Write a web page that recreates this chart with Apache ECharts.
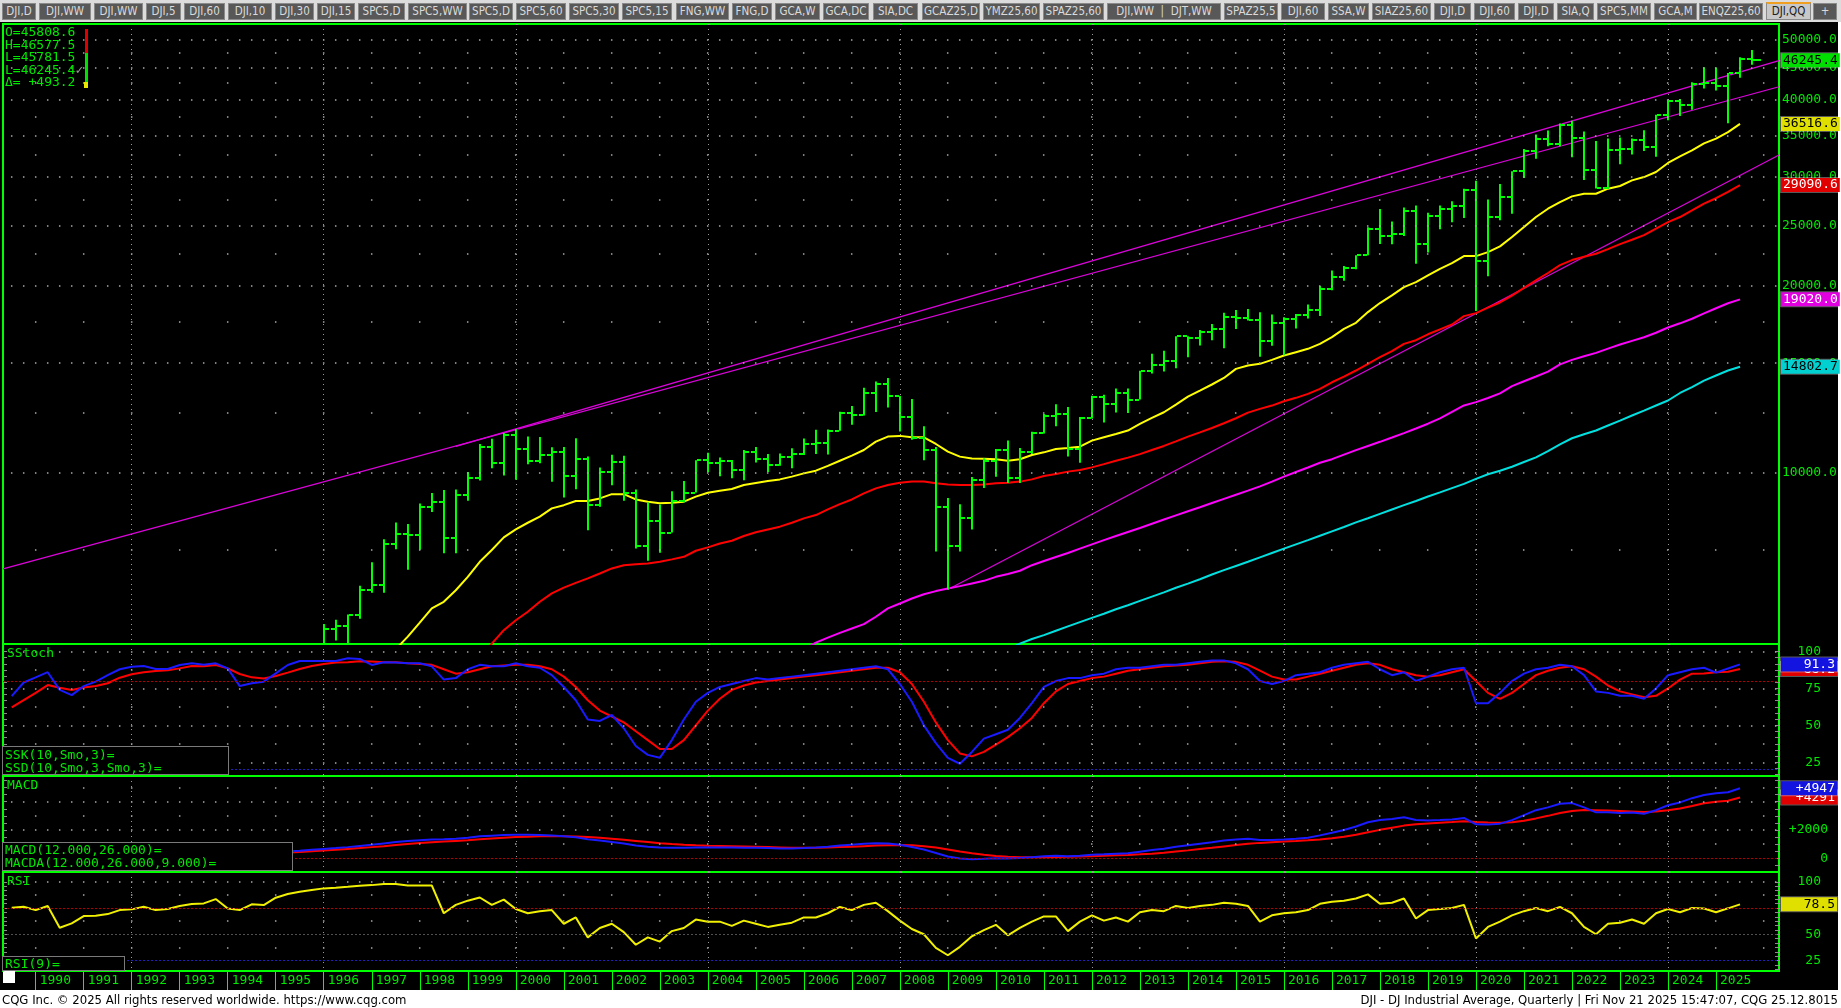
<!DOCTYPE html>
<html><head><meta charset="utf-8">
<script src="https://cdn.jsdelivr.net/npm/echarts@6/dist/echarts.min.js"></script>
<style>
html,body{margin:0;padding:0;width:1841px;height:1008px;overflow:hidden;background:#fff;}
#tabs{position:absolute;left:0;top:0;width:1841px;height:22px;background:#dcdcdc;}
.tab{position:absolute;top:3px;height:17px;background:#585858;border:1px solid #8a8a8a;box-sizing:border-box;color:#dadada;font-family:'Liberation Sans Narrow','DejaVu Sans Condensed','Liberation Sans',sans-serif;font-size:11.5px;line-height:15px;text-align:center;overflow:hidden;white-space:pre;}
.tab.active{background:#c8c8c8;color:#202020;border-top:2px solid #f0a020;top:2px;height:18px;}
#black{position:absolute;left:0;top:22px;width:1838px;height:968px;background:#000;}
#chart{position:absolute;left:0;top:0;width:1841px;height:1008px;}
.ov{position:absolute;color:#00e800;font-family:'DejaVu Sans Mono',monospace;font-size:13px;white-space:pre;}
.lbox{position:absolute;background:#000;border:1px solid #7a7a7a;box-sizing:border-box;padding-left:2px;}
.foot{position:absolute;top:992px;font-family:'Liberation Sans Narrow','DejaVu Sans Condensed','Liberation Sans',sans-serif;font-size:13px;color:#000;white-space:pre;line-height:16px;}
</style></head>
<body>
<div id="tabs"></div>
<div id="black"></div>
<div id="chart"></div>
<script>
// ---------------- DATA ----------------
const tabNames = ['DJI,D','DJI,WW','DJI,WW','DJI,5','DJI,60','DJI,10','DJI,30','DJI,15','SPC5,D','SPC5,WW','SPC5,D','SPC5,60','SPC5,30','SPC5,15','FNG,WW','FNG,D','GCA,W','GCA,DC','SIA,DC','GCAZ25,D','YMZ25,60','SPAZ25,60','DJI,WW  |  DJT,WW','SPAZ25,5','DJI,60','SSA,W','SIAZ25,60','DJI,D','DJI,60','DJI,D','SIA,Q','SPC5,MM','GCA,M','ENQZ25,60','DJI,QQ','+'];

const yearTicks = [1990,1991,1992,1993,1994,1995,1996,1997,1998,1999,2000,2001,2002,2003,2004,2005,2006,2007,2008,2009,2010,2011,2012,2013,2014,2015,2016,2017,2018,2019,2020,2021,2022,2023,2024,2025];
const gridYears = [1992,1996,2000,2004,2008,2012,2016,2020,2024];

// main price axis: labelled levels (dense dotted) and half levels (sparse dotted)
const mainLabelValues = [10000,15000,20000,25000,30000,35000,40000,45000,50000];
const mainHalfValues = [7500,12500,17500,22500,27500,32500,37500,42500,47500];
const stochLabels = [25,50,75,100];
const stochHalf = [37.5,62.5,87.5];
const macdLabels = [0,2000];
const macdDense = [2000,4000];
const macdHalf = [1000,3000,5000];
const rsiLabels = [25,50,75,100];
const rsiHalf = [37.5,62.5,87.5];

// Quarterly OHLC, 1996Q1 .. 2025Q4
const barStart = '1996Q1';
const barOpen = [5117,5587,5654,5882, 6448,6583,7672,7945, 7908,8800,8952,7843, 9181,9786,10970,10337,
 11497,10922,10448,10651, 10787,9879,10502,8848, 10021,10404,9243,7592, 8342,7992,8985,9275,
 10454,10358,10435,10080, 10783,10504,10275,10569, 10718,11109,11150,11679, 12463,12354,13409,13896,
 13265,12263,11350,10851, 8776,7609,8447,9712, 10428,10857,9774,10788, 11578,12320,12414,10913,
 12218,13212,12880,13437, 13104,14579,14910,15130, 16577,16458,16827,17043, 17823,17776,17620,16285,
 17425,17685,17930,18308, 19763,20663,21350,22405, 24719,24103,24271,26458, 23327,25929,26600,26917,
 28538,21917,25813,27782, 30606,32982,34503,33844, 36338,34678,30775,28726, 33147,33274,34408,33508,
 37690,39807,39119,42330, 42544,42002,44095,46398];
const barHigh = [5690,5778,5894,6561, 7158,7797,8299,8250, 8906,9260,9367,9380, 10007,11107,11326,11568,
 11750,11425,11400,10977, 10983,11350,10610,10184, 10673,10635,9379,8950, 8869,9320,9686,10462,
 10753,10570,10470,10868, 10984,10700,10720,10940, 11335,11709,11727,12529, 12796,13692,14021,14198,
 13279,13136,11867,10983, 9088,8878,9829,10540, 10908,11258,10948,11625, 12419,12876,12753,12284,
 13290,13338,13653,13661, 14585,15542,15709,16588, 16588,16978,17350,18103, 18289,18351,18137,17977,
 17790,18016,18668,19988, 21169,21535,22419,24876, 26617,25400,26769,26952, 26241,26952,27399,28702,
 29569,27580,29199,30637, 33259,35091,35631,36566, 36953,35492,34281,34596, 34712,34588,35679,37778,
 39889,40077,42628,45074, 45054,44118,46774,48041];
const barLow = [5000,5350,5300,5800, 6392,6391,7512,6960, 7500,8627,7400,7400, 9000,9700,10150,9884,
 9731,10300,10340,9654, 9106,9389,8062,8800, 9529,9000,7532,7197, 7416,7992,8936,9275,
 10000,9852,9780,9708, 10368,10012,10250,10156, 10661,10700,10683,11670, 11939,12354,12518,12725,
 11634,11287,10460,7450, 6470,7450,8087,9430, 9835,9614,9614,10700, 11555,11862,10605,10362,
 12218,12035,12492,12471, 13104,14434,14552,14719, 15341,16015,16334,15855, 17037,17576,15370,16013,
 15451,17063,17713,17884, 19677,20379,21279,22405, 23360,23344,24077,21713, 22639,24680,25339,25743,
 18214,20735,25523,26143, 29857,32072,33613,33613, 32273,29653,28715,28661, 31429,32580,33025,32327,
 37012,37611,38499,41659, 41345,36612,43340,45500];
const barClose = [5587,5654,5882,6448, 6583,7672,7945,7908, 8800,8952,7843,9181, 9786,10970,10337,11497,
 10922,10448,10651,10787, 9879,10502,8848,10021, 10404,9243,7592,8342, 7992,8985,9275,10454,
 10358,10435,10080,10783, 10504,10275,10569,10718, 11109,11150,11679,12463, 12354,13409,13896,13265,
 12263,11350,10851,8776, 7609,8447,9712,10428, 10857,9774,10788,11578, 12320,12414,10913,12218,
 13212,12880,13437,13104, 14579,14910,15130,16577, 16458,16827,17043,17823, 17776,17620,16285,17425,
 17685,17930,18308,19763, 20663,21350,22405,24719, 24103,24271,26458,23327, 25929,26600,26917,28538,
 21917,25813,27782,30606, 32982,34503,33844,36338, 34678,30775,28726,33147, 33274,34408,33508,37690,
 39807,39119,42330,42544, 42002,44095,46398,46245.4];

// Moving averages
const maYellowStart = '1997Q3';
const maYellow = [5180,5430,5720,6030,6180,6450,6780,7170,7490,7850,8090,8290,8480,8745,8850,8990,8990,9075,9220,9220,
 9040,8965,8910,8930,8965,9135,9270,9340,9400,9540,9610,9680,9740,9840,9960,10060,10240,10440,10640,10865,
 11210,11420,11450,11390,11390,11110,10800,10600,10530,10520,10495,10440,10495,10665,
 10770,10905,10945,11000,11250,11390,11530,11680,11970,12240,12500,12860,13250,13550,13860,14200,14690,14870,14965,15190,
 15435,15630,15825,16120,16525,17045,17430,18140,18760,19300,19905,20280,20790,21310,21765,22340,22340,22670,23160,23980,
 24890,25830,26640,27310,27890,28170,28170,28700,28990,29600,29970,30540,31580,32370,33100,33970,34570,35410,36516.6];
const maRedStart = '1999Q2';
const maRed = [5000,5290,5560,5770,5955,6180,6375,6515,6630,6740,6865,6995,7080,7105,7125,7170,7235,7305,7470,7565,
 7675,7755,7890,8000,8085,8170,8290,8425,8530,8715,8885,9040,9245,9420,9540,9620,9660,9660,9600,9560,
 9540,9540,9560,9600,9620,9660,9740,
 9865,9935,10025,10085,10185,10310,10440,10560,10700,10865,11030,11220,11420,11600,11790,12000,12225,12485,12660,12815,
 13025,13190,13385,13635,13975,14275,14600,14965,15340,15685,16120,16340,16705,17015,17325,17870,18070,18450,18800,19280,
 19850,20410,20980,21600,22010,22280,22535,22925,23360,23735,24150,24740,25350,25830,26480,27150,27700,28360,29090.6];
const maMagentaStart = '2006Q1';
const maMagenta = [5180,5310,5410,5505,5595,5687,5845,6030,6140,6255,6355,6430,6490,6550,6615,6680,6780,6850,6935,7080,
 7190,7300,7410,7530,7650,7770,7890,8010,8130,8260,8390,8520,8650,8780,8920,9060,9200,9340,9490,9660,
 9840,10010,10180,10360,10500,10680,10860,11030,11200,11380,11570,11770,11980,12220,12520,12820,12980,13180,13410,13780,
 14030,14280,14540,14940,15190,15390,15590,15840,16080,16300,16520,16800,17130,17400,17700,18050,18400,18750,19020.0];
const maCyanStart = '2010Q2';
const maCyan = [5180,5290,5380,5460,5550,5640,5730,5820,5910,6010,6100,6200,6300,6400,6510,6610,6720,6840,6950,7060,
 7170,7290,7410,7530,7650,7770,7900,8030,8160,8300,8430,8570,8710,8850,8990,9140,9280,9430,9580,9760,
 9930,10060,10210,10390,10570,10820,11090,11350,11520,11680,11900,12120,12350,12580,12820,13060,13430,13730,14060,14330,
 14600,14802.7];

// Trend lines [time, price]
const trendUpperA = [[1998.75, 11010], [2026.312, 46190]];
const trendUpperB = [[1989.319, 6983], [2026.312, 41930]];
const trendLowerC = [[2009.0, 6470], [2026.312, 32530]];

// Indicators, starting 1989Q3
const indStart = '1989Q3';
const stochK = [69.8,79,82.5,86,74,70.5,76.6,79.6,84,88, 89.7,90.2,88.2,88.2,90.9,92,91,92,88.6,76.6,
 78.5,79.6,85.2,90.9,93.6,93.6,93.6,93.6,95.4,95, 90.9,92.7,92.5,92,92,90,81,82,88,91,
 90,90,92,90,89,84,76,67,54,53, 57,48,36,30,28,40,54,66,72,76,
 78,80,82,81,82,83,84,85,86,87, 88,89,90,88,78,66,50,38,28,24,
 32,41,44,47,55,65,76,80,82,82, 84,85,88,89,89,90,91,91,92,93,
 94,94,92,88,80,78,80,84,85,86, 89,91,92,93,88,84,86,80,83,86,
 88,89,65,65,72,80,85,88,89,91, 90,84,73,72,70,70,68,75,84,86,
 88,89,85.7,88.5,91.3];
const stochD = [62.2,67.1,72,77.3,75.5,73.9,75.7,76.6,78.5,82.3, 84.6,85.9,86.8,87.3,88.6,90.2,90,90.9,88.6,84.8,
 82.5,81.8,83.4,85.7,88.2,90.2,91.6,92.5,92.7,93.4, 93.2,92.7,92.7,92,91.5,91,88,85,86,88,
 90,90.5,91,91,90,88,83,76,67,60, 56,52,46,40,34,34,40,50,60,68,
 74,77,79,80,81,82,83,84,85,86, 87,88,89,89,86,78,66,52,40,31,
 29,32,37,42,48,55,65,73,78,80, 82,83,85,87,88,89,90,90.5,91,92,
 93,93.5,93,91,87,83,81,81,83,85, 87,89,91,92,91,88,86,84,83,84,
 86,88,80,72,68,72,78,84,87,89, 90,88,83,77,73,71,69,70,75,81,
 85,85.2,86,86.3,88.2];
const macdStart = '1994Q3';
const macdLine = [380,420,460,500,540,600,660,720,790,870, 950,1050,1150,1230,1280,1330,1350,1380,1450,1550,
 1600,1650,1670,1660,1650,1620,1550,1480,1350,1250, 1150,1050,900,820,760,740,740,760,770,770,
 760,750,740,720,700,700,720,760,820,900, 960,1020,1060,1040,950,800,620,380,130,-20,
 -60,-40,0,-10,20,80,140,180,150,180, 250,280,330,360,470,580,680,820,920,1030,
 1130,1250,1330,1380,1300,1300,1330,1380,1450,1620, 1800,2000,2250,2550,2700,2780,2900,2700,2680,2700,
 2750,2850,2400,2380,2450,2700,3050,3400,3600,3850, 3900,3600,3250,3250,3200,3230,3150,3400,3750,3950,
 4250,4473,4594,4664,4947];
const macdSignal = [300,330,370,410,450,500,550,600,660,720, 790,860,940,1010,1080,1130,1180,1230,1280,1340,
 1400,1450,1500,1530,1560,1570,1560,1540,1500,1450, 1380,1310,1230,1150,1070,1010,960,920,890,870,
 850,830,810,790,770,750,740,740,760,790, 820,860,900,930,940,920,860,760,620,480,
 350,250,170,110,80,70,80,100,110,130, 150,180,210,240,280,330,400,480,560,650,
 740,840,940,1030,1090,1140,1180,1220,1270,1330, 1420,1530,1670,1840,2010,2160,2310,2400,2460,2510,
 2560,2620,2570,2530,2510,2550,2660,2820,3000,3200, 3350,3420,3400,3370,3340,3310,3280,3300,3400,3520,
 3700,3887,4000,4071,4291];
const rsi = [75.2,76.2,73,76.9,56.2,60.4,67.3,67.6,69.2,73, 73.7,76.2,73,74,76.9,78.8,79.4,83.5,74.6,73,
 78.5,77.8,84.8,88.3,90.5,92.1,93.7,94.3,95.2,96.2, 96.8,97.8,97.8,96.5,96.5,96.5,70,78,82,85,
 78,83,74,70,72,73,60,66,47,56, 60,52,40,47,43,53,56,64,62,62,
 58,63,60,57,59,61,66,66,70,76, 73,78,80,72,63,55,50,37,30,38,
 48,54,59,49,56,62,67,67,53,62, 68,63,66,62,71,73,72,77,75,77,
 78,80,79,77,62,68,70,71,73,79, 81,82,84,88,79,80,84,65,73,74,
 75,78,46,57,62,68,72,75,72,76, 70,57,50,60,61,64,60,70,74,71,
 75,74.6,71,74.7,78.5];

// ---------------- LAYOUT / STYLE ----------------
const tabEdges = [[2,36],[39,91],[94,143],[146,181],[184,225],[228,272],[275,314],[317,355],[358,405],[408,467],[469,513],[516,566],[569,619],[622,672],[676,729],[732,772],[775,820],[823,869],[873,918],[922,980],[983,1040],[1043,1104],[1107,1221],[1224,1278],[1281,1325],[1328,1369],[1372,1431],[1434,1471],[1474,1515],[1518,1554],[1557,1594],[1597,1651],[1654,1697],[1699,1763],[1766,1811],[1813,1837]];
const tabsEl = document.getElementById('tabs');
tabNames.forEach((n,i)=>{
  const d=document.createElement('div');
  d.className='tab'+(i===34?' active':'');
  d.style.left=tabEdges[i][0]+'px'; d.style.width=(tabEdges[i][1]-tabEdges[i][0])+'px';
  d.textContent=n; tabsEl.appendChild(d);
});

const GREEN='#00ff00', TXT='#00e800', MONO='DejaVu Sans Mono';
const XMIN=1989.319, XMAX=2026.312;
function q2t(q){return +q.slice(0,4)+(+q.slice(5)-1)/4;}
function pairs(startQ, arr){const t0=q2t(startQ);return arr.map((v,i)=>[t0+i*0.25, v]);}
const last = a => a[a.length-1];

const t0b=q2t(barStart);
const bars = barOpen.map((o,i)=>[t0b+i*0.25, o, barHigh[i], barLow[i], barClose[i]]);

const grids=[
 {left:3,right:62,top:24,height:620},
 {left:3,right:62,top:644,height:132},
 {left:3,right:62,top:776,height:96},
 {left:3,right:62,top:872,height:99}
].map(g=>Object.assign(g,{show:true,borderColor:GREEN,borderWidth:2,backgroundColor:'transparent'}));

const xAxes=[0,1,2,3].map(i=>({gridIndex:i,type:'value',min:XMIN,max:XMAX,
  axisLine:{show:false},axisTick:{show:false,customValues:gridYears},axisLabel:{show:false},
  splitLine:{show:true,lineStyle:{color:'#9a9a9a',width:1,type:[1,4]}}}));
xAxes.push({gridIndex:3,type:'value',min:XMIN,max:XMAX,position:'bottom',
  axisLine:{show:false},
  axisTick:{show:true,length:19,customValues:yearTicks,lineStyle:{color:GREEN,width:1}},
  axisLabel:{show:true,customValues:yearTicks,formatter:v=>String(Math.round(v)),align:'left',padding:[0,0,0,4],margin:3,color:TXT,fontFamily:MONO,fontSize:13},
  splitLine:{show:false}});

function valAxis(gi,min,max,labels,margin,fmt,ticks){
  return {gridIndex:gi,type:'value',min,max,position:'right',
    axisLine:{show:false},
    axisTick:{show:true,inside:true,length:4,customValues:ticks,lineStyle:{color:'#8c8c8c'}},
    axisLabel:{customValues:labels,align:'right',margin,color:TXT,fontFamily:MONO,fontSize:13,formatter:fmt||(v=>String(v))},
    splitLine:{show:false}};
}
function tickAxis(gi,min,max,ticks){
  return {gridIndex:gi,type:'value',min,max,position:'left',
    axisLine:{show:false},axisLabel:{show:false},splitLine:{show:false},
    axisTick:{show:true,inside:true,length:4,customValues:ticks,lineStyle:{color:'#8c8c8c'}}};
}
const pctTicks=[];for(let n=0;n<=20;n++)pctTicks.push(100-n*25/6);
const macdTicks=[];for(let v=-500;v<=5500;v+=500)macdTicks.push(v);
const yAxes=[
 {gridIndex:0,type:'log',logBase:10,min:5282,max:52940,position:'right',axisLine:{show:false},axisTick:{show:false},axisLabel:{show:false},splitLine:{show:false}},
 valAxis(1,15.7,105.1,stochLabels,42,null,pctTicks),
 valAxis(2,-968,5816,macdLabels,49,v=>v>0?'+'+v:String(v),macdTicks),
 valAxis(3,15,109.3,rsiLabels,42,null,pctTicks),
 tickAxis(1,15.7,105.1,pctTicks),
 tickAxis(2,-968,5816,macdTicks),
 tickAxis(3,15,109.3,pctTicks)
];

function lineS(name,data,color,xi,yi,w,z){
  return {name,type:'line',data,xAxisIndex:xi,yAxisIndex:yi,showSymbol:false,symbol:'none',clip:true,
    lineStyle:{color,width:w||2},z:z||3,silent:true,animation:false};
}
function levels(xi,yi,items,z){
  return {type:'line',data:[],xAxisIndex:xi,yAxisIndex:yi,z:z||1,silent:true,
    markLine:{silent:true,symbol:['none','none'],animation:false,precision:4,data:items}};
}
// dotted grid rows: 'q' = a dot at every quarter, 'y' = a dot at every year
function dotRow(v,kind,label){
  return {yAxis:v,
    lineStyle:{color:'#a8a8a8',width:1.5,type:kind==='q'?[1.5,10.5]:[1.5,46.5],dashOffset:kind==='q'?4.05:16.05},
    label:label?{show:true,position:'end',distance:3,formatter:p=>Number(p.value).toFixed(1),color:TXT,fontFamily:MONO,fontSize:13}:{show:false}};
}
function boxItem(v,txt,bg,fg,rightAlign){
  const lab = rightAlign ? {show:true,position:'end',distance:2,formatter:'{a|'+txt+'}',backgroundColor:bg,borderColor:'rgba(255,255,255,0.35)',borderWidth:1,padding:[1,2,0,2],
      rich:{a:{width:52,align:'right',color:fg,fontFamily:MONO,fontSize:13,lineHeight:13}}}
    : {show:true,position:'end',distance:2,formatter:txt,backgroundColor:bg,color:fg,borderColor:'rgba(255,255,255,0.35)',borderWidth:1,padding:[1,2,0,2],fontFamily:MONO,fontSize:13,lineHeight:13};
  return {yAxis:v,lineStyle:{color:'rgba(0,0,0,0)',width:1,type:'solid'},label:lab};
}
function dense(v,color){return {yAxis:v,lineStyle:{color,width:1,type:[2,2]},label:{show:false}};}

const mainGridItems = mainLabelValues.map(v=>dotRow(v,'q',true)).concat(mainHalfValues.map(v=>dotRow(v,'y',false)));

const series=[
 levels(0,0,mainGridItems,1),
 lineS('trendB',trendUpperB,'#dd00dd',0,0,1.2,2),
 lineS('trendA',trendUpperA,'#dd00dd',0,0,1.2,2),
 lineS('trendC',trendLowerC,'#dd00dd',0,0,1.2,2),
 lineS('maCyan',pairs(maCyanStart,maCyan),'#00e0e0',0,0,2,3),
 lineS('maMagenta',pairs(maMagentaStart,maMagenta),'#ff00ff',0,0,2,3),
 lineS('maRed',pairs(maRedStart,maRed),'#ff0000',0,0,2,3),
 lineS('maYellow',pairs(maYellowStart,maYellow),'#ffff00',0,0,2,3),
 {type:'custom',name:'DJI',data:bars,xAxisIndex:0,yAxisIndex:0,clip:true,z:4,silent:true,animation:false,
  encode:{x:0,y:[1,2,3,4]},
  renderItem:function(params,api){
    const t=api.value(0);
    const pO=api.coord([t,api.value(1)]),pH=api.coord([t,api.value(2)]),pL=api.coord([t,api.value(3)]),pC=api.coord([t,api.value(4)]);
    const x=Math.round(pH[0]);
    const rt=(params.dataIndex===bars.length-1)?8:4;
    const st={fill:GREEN};
    return {type:'group',children:[
      {type:'rect',shape:{x:x-1,y:pH[1],width:2,height:Math.max(1,pL[1]-pH[1])},style:st},
      {type:'rect',shape:{x:x-5,y:Math.round(pO[1])-1,width:4,height:2},style:st},
      {type:'rect',shape:{x:x+1,y:Math.round(pC[1])-1,width:rt,height:2},style:st}
    ]};
  }},
 levels(0,0,[
   boxItem(last(maCyan),last(maCyan).toFixed(1),'#00d0d0','#000'),
   boxItem(last(maMagenta),last(maMagenta).toFixed(1),'#e000e0','#fff'),
   boxItem(last(maRed),last(maRed).toFixed(1),'#e00000','#fff'),
   boxItem(last(maYellow),last(maYellow).toFixed(1),'#e0e000','#000'),
   boxItem(last(barClose),last(barClose).toFixed(1),'#00e000','#000')
 ],10),
 // Stochastics
 levels(1,1,stochLabels.map(v=>dotRow(v,'q')).concat(stochHalf.map(v=>dotRow(v,'y'))).concat([dense(80,'#b00000'),dense(20,'#2020c0')]),1),
 lineS('SSD',pairs(indStart,stochD),'#ff0000',1,1,2,3),
 lineS('SSK',pairs(indStart,stochK),'#1a1aff',1,1,2,4),
 levels(1,1,[boxItem(last(stochD),last(stochD).toFixed(1),'#e00000','#fff',true)],10),
 levels(1,1,[boxItem(last(stochK),last(stochK).toFixed(1),'#1414e0','#fff',true)],11),
 // MACD
 levels(2,2,macdDense.map(v=>dotRow(v,'q')).concat(macdHalf.map(v=>dotRow(v,'y'))).concat([dense(0,'#b00000')]),1),
 lineS('MACDA',pairs(macdStart,macdSignal),'#ff0000',2,2,2,3),
 lineS('MACD',pairs(macdStart,macdLine),'#1a1aff',2,2,2,4),
 levels(2,2,[boxItem(last(macdSignal),'+'+last(macdSignal),'#e00000','#fff',true)],10),
 levels(2,2,[boxItem(last(macdLine),'+'+last(macdLine),'#1414e0','#fff',true)],11),
 // RSI
 levels(3,3,[dotRow(100,'q')].concat(rsiHalf.map(v=>dotRow(v,'y'))).concat([dense(75,'#b00000'),dense(50,'#505050'),dense(25,'#2020c0')]),1),
 lineS('RSI',pairs(indStart,rsi),'#f0f000',3,3,2,3),
 levels(3,3,[boxItem(last(rsi),last(rsi).toFixed(1),'#e0e000','#000',true)],10)
];

const chart=echarts.init(document.getElementById('chart'),null,{renderer:'canvas'});
chart.setOption({animation:false,backgroundColor:'transparent',grid:grids,xAxis:xAxes,yAxis:yAxes,series});
</script>

<!-- overlays -->
<div class="ov" style="left:5px;top:26px;line-height:12.6px;">O=45808.6
H=46577.5
L=45781.5
L=46245.4<span style="color:#9a9a9a">✓</span>
Δ= +493.2</div>
<div style="position:absolute;left:85px;top:29px;width:3px;height:24px;background:#e00000;"></div>
<div style="position:absolute;left:85px;top:53px;width:3px;height:35px;background:#00e000;"></div>
<div style="position:absolute;left:84px;top:82px;width:4px;height:6px;background:#e8e800;"></div>

<div class="ov" style="left:7px;top:646px;line-height:14px;">SStoch</div>
<div class="lbox" style="left:2px;top:746px;width:227px;height:29px;"><div class="ov" style="left:2px;top:1px;line-height:13.3px;">SSK(10,Smo,3)=
SSD(10,Smo,3,Smo,3)=</div></div>

<div class="ov" style="left:7px;top:778px;line-height:14px;">MACD</div>
<div class="lbox" style="left:2px;top:842px;width:291px;height:29px;"><div class="ov" style="left:2px;top:1px;line-height:12.7px;">MACD(12.000,26.000)=
MACDA(12.000,26.000,9.000)=</div></div>

<div class="ov" style="left:7px;top:874px;line-height:14px;">RSI</div>
<div class="lbox" style="left:2px;top:956px;width:123px;height:15px;"><div class="ov" style="left:2px;top:0px;line-height:13px;">RSI(9)=</div></div>

<div style="position:absolute;left:3px;top:971px;width:12px;height:12px;background:#fff;"></div>

<div class="foot" style="left:2px;">CQG Inc. © 2025 All rights reserved worldwide. https://www.cqg.com</div>
<div class="foot" style="right:3px;">DJI - DJ Industrial Average, Quarterly | Fri Nov 21 2025 15:47:07, CQG 25.12.8015</div>
</body></html>
